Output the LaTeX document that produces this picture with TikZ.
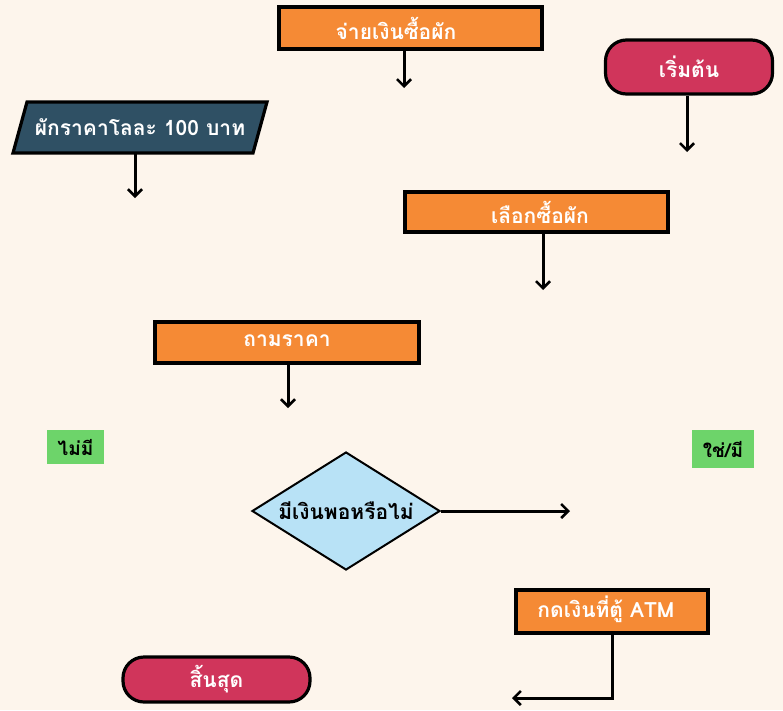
\documentclass[tikz,border=0pt]{standalone}
\usepackage{fontspec}
\newfontfamily\thaifont[Script=Thai]{Loma}
\usetikzlibrary{shapes.geometric,arrows.meta}
\definecolor{bg}{HTML}{FDF5EC}
\definecolor{orangebox}{HTML}{F58A35}
\definecolor{crimson}{HTML}{D0355B}
\definecolor{teal}{HTML}{2F5064}
\definecolor{lightblue}{HTML}{B8E2F6}
\definecolor{greenlab}{HTML}{6DD46A}
\tikzset{
  x=1pt, y=-1pt,
  txt/.style={font=\fontsize{21}{24}\thaifont\bfseries\selectfont},
  procbox/.style={draw=black, line width=3.2pt, fill=orangebox, inner sep=0pt},
  termbox/.style={txt, draw=black, line width=3.2pt, fill=crimson, text=white, rounded corners=21pt, inner sep=0pt},
  greenbox/.style={font=\fontsize{19}{22}\thaifont\bfseries\selectfont, fill=greenlab, text=black, inner sep=0pt},
  arr/.style={line width=3pt, -{Straight Barb[length=7pt,width=14pt,line width=2.6pt]}}
}
\begin{document}
\begin{tikzpicture}
\fill[bg] (0,0) rectangle (783,710);
\useasboundingbox (0,0) rectangle (783,710);
% boxes
\node[procbox, minimum width=263pt, minimum height=42pt] (pay) at (410.5,28) {};
\node[txt, text=white] (paytxt) at (396,28) {จ่ายเงินซื้อผัก};
\node[termbox, minimum width=167pt, minimum height=54pt] (start) at (689,67) {เริ่มต้น};
\fill[teal, draw=black, line width=3.2pt] (27,102) -- (267,102) -- (253,153) -- (13,153) -- cycle;
\node[txt, text=white] (price) at (140,127.5) {ผักราคาโลละ 100 บาท};
\node[procbox, minimum width=263pt, minimum height=40pt] (choose) at (536.5,212) {};
\node[txt, text=white] (choosetxt) at (540,212) {เลือกซื้อผัก};
\node[procbox, minimum width=264pt, minimum height=41pt] (ask) at (287,342.5) {};
\node[txt, text=white] (asktxt) at (287,341) {ถามราคา};
\node[greenbox, minimum width=57pt, minimum height=34pt] (no) at (75.5,447) {ไม่มี};
\node[greenbox, minimum width=62pt, minimum height=38pt] (yes) at (723,449) {ใช่/มี};
\node[diamond, draw=black, line width=2pt, fill=lightblue, minimum width=188pt, minimum height=118pt, inner sep=0pt] (dec) at (346,511) {};
\node[txt, text=black] (dectxt) at (346,511) {มีเงินพอหรือไม่};
\node[procbox, minimum width=192pt, minimum height=43pt] (atm) at (612,611.5) {};
\node[txt, text=white] (atmtxt) at (606,609) {กดเงินที่ตู้ ATM};
\node[termbox, minimum width=187pt, minimum height=45pt] (end) at (216.5,679.5) {สิ้นสุด};
% arrow ends
\coordinate (e1) at (404,88);
\coordinate (e2) at (687,152);
\coordinate (e3s) at (135,153);
\coordinate (e3) at (135,198);
\coordinate (e4) at (543,290);
\coordinate (e5) at (288,408);
\coordinate (e6) at (570,511);
\coordinate (e7) at (512,698);
% arrows
\draw[arr] (pay.south -| e1) -- (e1);
\draw[arr] (start.south -| e2) -- (e2);
\draw[arr] (e3s) -- (e3);
\draw[arr] (choose.south -| e4) -- (e4);
\draw[arr] (ask.south -| e5) -- (e5);
\draw[arr] (dec.east) -- (e6);
\draw[arr] (atm.south) |- (e7);
\end{tikzpicture}
\end{document}
